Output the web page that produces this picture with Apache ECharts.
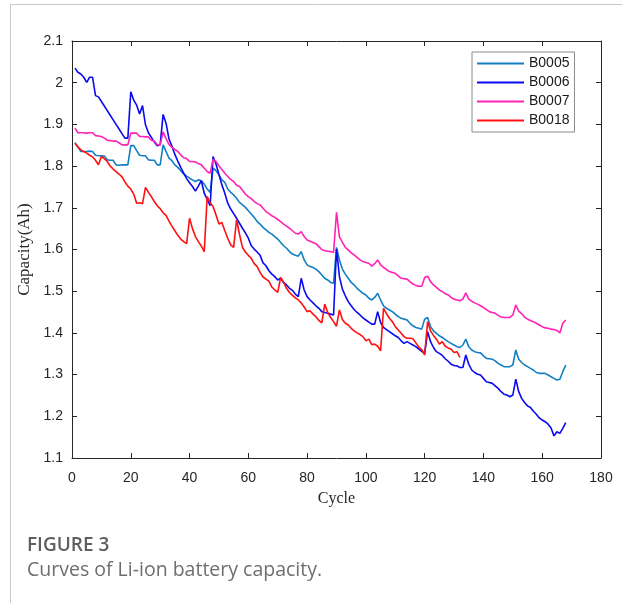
<!DOCTYPE html>
<html>
<head>
<meta charset="utf-8">
<script src="https://cdn.jsdelivr.net/npm/echarts@6/dist/echarts.min.js"></script>
<style>
html,body{margin:0;padding:0;background:#fff;}
#main{width:622px;height:603px;}
</style>
</head>
<body>
<div id="main"></div>
<script>
// capacity (Ah) per discharge cycle, cycle 1 first
var names = ['B0005', 'B0006', 'B0007', 'B0018'];
var colors = ['#127fc3', '#0a0af2', '#ff22b4', '#ff1010'];
var xTicks = [0, 180, 20];
var yTicks = [1.1, 2.1, 0.1];

var capB0005 = [
	1.856, 1.846, 1.835, 1.835, 1.835, 1.836, 1.835, 1.826, 1.825, 1.825,
	1.824, 1.815, 1.814, 1.814, 1.803, 1.802, 1.803, 1.803, 1.803, 1.849,
	1.849, 1.837, 1.826, 1.825, 1.825, 1.815, 1.814, 1.814, 1.803, 1.803,
	1.851, 1.835, 1.819, 1.813, 1.803, 1.797, 1.789, 1.781, 1.776, 1.771,
	1.767, 1.763, 1.767, 1.765, 1.757, 1.745, 1.737, 1.795, 1.789, 1.779,
	1.767, 1.761, 1.745, 1.737, 1.731, 1.723, 1.713, 1.707, 1.701, 1.693,
	1.685, 1.677, 1.667, 1.661, 1.653, 1.647, 1.641, 1.637, 1.631, 1.625,
	1.617, 1.609, 1.603, 1.595, 1.589, 1.586, 1.584, 1.595, 1.575, 1.563,
	1.559, 1.557, 1.553, 1.547, 1.539, 1.531, 1.527, 1.521, 1.519, 1.605,
	1.575, 1.553, 1.541, 1.531, 1.521, 1.515, 1.507, 1.501, 1.495, 1.491,
	1.483, 1.479, 1.485, 1.495, 1.479, 1.465, 1.459, 1.455, 1.451, 1.445,
	1.439, 1.435, 1.433, 1.431, 1.423, 1.417, 1.413, 1.411, 1.409, 1.433,
	1.437, 1.415, 1.405, 1.399, 1.393, 1.389, 1.384, 1.379, 1.375, 1.371,
	1.367, 1.365, 1.371, 1.385, 1.367, 1.359, 1.355, 1.353, 1.352, 1.345,
	1.339, 1.338, 1.337, 1.333, 1.327, 1.323, 1.319, 1.319, 1.319, 1.323,
	1.359, 1.337, 1.329, 1.323, 1.319, 1.315, 1.311, 1.305, 1.303, 1.303,
	1.303, 1.299, 1.295, 1.291, 1.287, 1.289, 1.307, 1.323
];
var capB0006 = [
	2.035, 2.025, 2.021, 2.013, 2.001, 2.013, 2.013, 1.969, 1.966, 1.955,
	1.944, 1.933, 1.922, 1.911, 1.900, 1.889, 1.878, 1.867, 1.867, 1.978,
	1.958, 1.946, 1.925, 1.945, 1.899, 1.880, 1.869, 1.858, 1.849, 1.851,
	1.924, 1.903, 1.865, 1.848, 1.828, 1.812, 1.797, 1.783, 1.770, 1.760,
	1.751, 1.740, 1.752, 1.765, 1.735, 1.720, 1.705, 1.823, 1.805, 1.780,
	1.755, 1.735, 1.711, 1.697, 1.686, 1.675, 1.663, 1.651, 1.640, 1.627,
	1.609, 1.601, 1.594, 1.586, 1.568, 1.561, 1.549, 1.541, 1.535, 1.527,
	1.531, 1.521, 1.515, 1.507, 1.502, 1.493, 1.487, 1.531, 1.503, 1.487,
	1.479, 1.472, 1.465, 1.459, 1.451, 1.449, 1.447, 1.445, 1.443, 1.601,
	1.535, 1.505, 1.489, 1.475, 1.465, 1.456, 1.449, 1.443, 1.436, 1.431,
	1.426, 1.421, 1.421, 1.451, 1.425, 1.413, 1.408, 1.403, 1.398, 1.393,
	1.389, 1.381, 1.375, 1.379, 1.375, 1.371, 1.367, 1.361, 1.356, 1.351,
	1.403, 1.379, 1.365, 1.355, 1.351, 1.346, 1.338, 1.332, 1.325, 1.322,
	1.321, 1.317, 1.317, 1.347, 1.325, 1.311, 1.305, 1.301, 1.299, 1.291,
	1.283, 1.281, 1.279, 1.273, 1.267, 1.259, 1.253, 1.251, 1.247, 1.251,
	1.289, 1.259, 1.243, 1.233, 1.225, 1.221, 1.212, 1.205, 1.196, 1.191,
	1.187, 1.181, 1.172, 1.153, 1.163, 1.159, 1.171, 1.185
];
var capB0007 = [
	1.891, 1.880, 1.880, 1.880, 1.879, 1.880, 1.880, 1.873, 1.872, 1.871,
	1.867, 1.862, 1.861, 1.860, 1.860, 1.856, 1.851, 1.851, 1.851, 1.879,
	1.879, 1.879, 1.871, 1.871, 1.870, 1.870, 1.862, 1.860, 1.851, 1.851,
	1.882, 1.866, 1.852, 1.845, 1.840, 1.835, 1.827, 1.820, 1.818, 1.811,
	1.811, 1.810, 1.806, 1.803, 1.795, 1.787, 1.783, 1.816, 1.811, 1.801,
	1.792, 1.783, 1.775, 1.768, 1.763, 1.754, 1.751, 1.742, 1.733, 1.727,
	1.722, 1.715, 1.710, 1.707, 1.699, 1.691, 1.686, 1.681, 1.677, 1.672,
	1.667, 1.661, 1.656, 1.651, 1.645, 1.639, 1.637, 1.643, 1.631, 1.623,
	1.620, 1.617, 1.614, 1.607, 1.600, 1.597, 1.596, 1.595, 1.593, 1.689,
	1.630, 1.617, 1.605, 1.599, 1.592, 1.587, 1.581, 1.575, 1.571, 1.569,
	1.567, 1.560, 1.566, 1.575, 1.563, 1.557, 1.552, 1.547, 1.545, 1.543,
	1.537, 1.531, 1.530, 1.529, 1.523, 1.517, 1.514, 1.512, 1.512, 1.533,
	1.536, 1.523, 1.515, 1.509, 1.503, 1.499, 1.494, 1.491, 1.485, 1.481,
	1.479, 1.477, 1.481, 1.496, 1.481, 1.476, 1.472, 1.469, 1.465, 1.461,
	1.456, 1.451, 1.449, 1.447, 1.442, 1.438, 1.437, 1.437, 1.437, 1.443,
	1.467, 1.452, 1.446, 1.438, 1.433, 1.430, 1.427, 1.423, 1.419, 1.415,
	1.412, 1.411, 1.409, 1.408, 1.406, 1.400, 1.423, 1.431
];
var capB0018 = [
	1.855, 1.846, 1.839, 1.835, 1.831, 1.826, 1.822, 1.814, 1.803, 1.823,
	1.818, 1.811, 1.800, 1.793, 1.787, 1.781, 1.774, 1.762, 1.752, 1.745,
	1.733, 1.711, 1.712, 1.710, 1.749, 1.737, 1.727, 1.715, 1.705, 1.698,
	1.688, 1.682, 1.668, 1.656, 1.645, 1.634, 1.625, 1.619, 1.614, 1.675,
	1.650, 1.631, 1.619, 1.608, 1.595, 1.727, 1.712, 1.703, 1.683, 1.661,
	1.665, 1.645, 1.627, 1.611, 1.605, 1.672, 1.636, 1.605, 1.594, 1.586,
	1.579, 1.566, 1.559, 1.545, 1.534, 1.529, 1.524, 1.510, 1.503, 1.497,
	1.533, 1.521, 1.507, 1.497, 1.490, 1.484, 1.479, 1.472, 1.462, 1.451,
	1.453, 1.445, 1.439, 1.430, 1.424, 1.469, 1.449, 1.437, 1.427, 1.416,
	1.455, 1.432, 1.423, 1.419, 1.411, 1.405, 1.400, 1.396, 1.391, 1.381,
	1.385, 1.372, 1.373, 1.368, 1.357, 1.459, 1.446, 1.435, 1.427, 1.415,
	1.407, 1.399, 1.391, 1.387, 1.387, 1.386, 1.376, 1.366, 1.360, 1.347,
	1.427, 1.405, 1.394, 1.385, 1.373, 1.379, 1.368, 1.364, 1.361, 1.353,
	1.355, 1.341
];
var caps = [capB0005, capB0006, capB0007, capB0018];

// pair each value with its cycle number
function withCycles(arr) {
	return arr.map(function (v, i) { return [i + 1, v]; });
}

var axisColor = '#262626';
var tickFont = 'Liberation Sans, Arial, sans-serif';
var chart = echarts.init(document.getElementById('main'));

var series = names.map(function (n, k) {
	return {
		name: n,
		type: 'line',
		data: withCycles(caps[k]),
		showSymbol: false,
		symbol: 'none',
		lineStyle: {color: colors[k], width: 1.6},
		itemStyle: {color: colors[k]},
		z: 3 + k
	};
});

var xBase = {
	type: 'value',
	min: xTicks[0],
	max: xTicks[1],
	interval: xTicks[2],
	splitLine: {show: false},
	axisLine: {show: true, onZero: false, lineStyle: {color: axisColor, width: 1}},
	axisTick: {show: true, inside: true, length: 5, lineStyle: {color: axisColor}}
};
var yBase = {
	type: 'value',
	min: yTicks[0],
	max: yTicks[1],
	interval: yTicks[2],
	splitLine: {show: false},
	axisLine: {show: true, onZero: false, lineStyle: {color: axisColor, width: 1}},
	axisTick: {show: true, inside: true, length: 5, lineStyle: {color: axisColor}}
};

var option = {
	animation: false,
	grid: {left: 72, top: 41, right: 21, bottom: 145, containLabel: false},
	legend: {
		data: names,
		orient: 'vertical',
		left: 472,
		top: 52,
		padding: [3, 5, 3, 5],
		itemWidth: 47,
		itemHeight: 2,
		itemGap: 2,
		icon: 'rect',
		borderColor: '#8a8a8a',
		borderWidth: 1,
		backgroundColor: '#fff',
		textStyle: {fontFamily: tickFont, fontSize: 14, color: '#1a1a1a', lineHeight: 17}
	},
	xAxis: [
		Object.assign({}, xBase, {
			position: 'bottom',
			name: 'Cycle',
			nameLocation: 'middle',
			nameGap: 33,
			nameTextStyle: {fontFamily: 'Liberation Serif, Times New Roman, serif', fontSize: 16, color: axisColor},
			axisLabel: {fontFamily: tickFont, fontSize: 14, color: axisColor, margin: 13}
		}),
		Object.assign({}, xBase, {position: 'top', axisLabel: {show: false}})
	],
	yAxis: [
		Object.assign({}, yBase, {
			position: 'left',
			name: 'Capacity(Ah)',
			nameLocation: 'middle',
			nameGap: 33,
			nameTextStyle: {fontFamily: 'Liberation Serif, Times New Roman, serif', fontSize: 17, color: axisColor},
			axisLabel: {fontFamily: tickFont, fontSize: 14, color: axisColor, margin: 9}
		}),
		Object.assign({}, yBase, {position: 'right', axisLabel: {show: false}})
	],
	graphic: [
		{
			type: 'rect',
			silent: true,
			shape: {x: 10.5, y: 4.5, width: 800, height: 800},
			style: {fill: 'none', stroke: '#c8c8c8', lineWidth: 1}
		},
		{
			type: 'text',
			left: 27,
			top: 536,
			style: {text: 'FIGURE 3', font: '600 19px "Open Sans", "Noto Sans", sans-serif', fill: '#5f5f5f'}
		},
		{
			type: 'text',
			left: 27,
			top: 560,
			style: {text: 'Curves of Li-ion battery capacity.', font: '19.5px "Open Sans", "Noto Sans", sans-serif', fill: '#6e6e6e'}
		}
	],
	series: series
};
chart.setOption(option);
</script>
</body>
</html>
